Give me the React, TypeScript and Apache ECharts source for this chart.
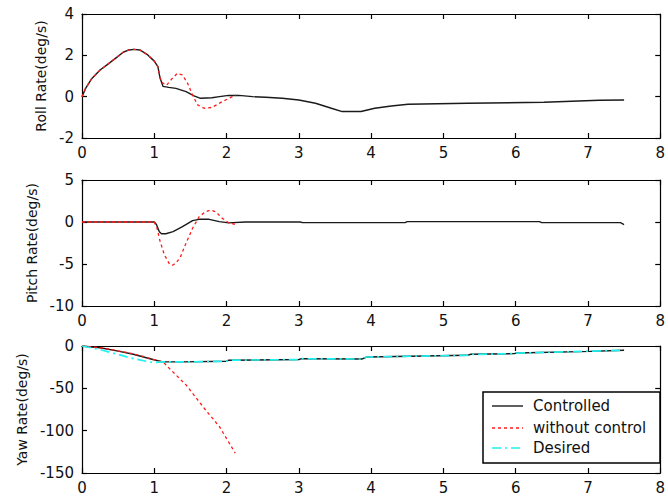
import React, { useEffect, useRef } from "react";
import * as echarts from "echarts";

// Roll rate response (deg/s)
const rollTimeCtrl = [0, 0.05, 0.13, 0.25, 0.35, 0.48, 0.57, 0.65, 0.72, 0.8, 0.91, 1.0, 1.05, 1.08, 1.12, 1.2, 1.3, 1.44, 1.55, 1.64, 1.8, 1.9, 2.03, 2.17, 2.36, 2.54, 2.77, 3.0, 3.23, 3.45, 3.6, 3.86, 4.05, 4.28, 4.51, 5.33, 6.39, 7.16, 7.5];
const rollCtrl = [0, 0.4, 0.85, 1.29, 1.55, 1.9, 2.15, 2.26, 2.29, 2.26, 2.02, 1.72, 1.45, 0.9, 0.5, 0.45, 0.4, 0.24, 0.04, -0.08, -0.05, 0.0, 0.06, 0.06, 0.0, -0.03, -0.08, -0.16, -0.32, -0.56, -0.72, -0.72, -0.56, -0.45, -0.37, -0.32, -0.27, -0.17, -0.16];
const rollTimeFree = [0, 0.05, 0.13, 0.25, 0.35, 0.48, 0.57, 0.65, 0.72, 0.8, 0.91, 1.0, 1.05, 1.08, 1.12, 1.17, 1.24, 1.32, 1.39, 1.46, 1.53, 1.6, 1.69, 1.8, 1.94, 2.08, 2.13];
const rollFree = [0, 0.4, 0.85, 1.29, 1.55, 1.9, 2.15, 2.26, 2.29, 2.26, 2.02, 1.72, 1.45, 0.9, 0.65, 0.55, 0.85, 1.13, 1.05, 0.65, 0.08, -0.4, -0.56, -0.52, -0.24, 0.0, 0.08];

// Pitch rate response (deg/s)
const pitchTimeCtrl = [0, 1.0, 1.03, 1.07, 1.1, 1.16, 1.26, 1.39, 1.53, 1.62, 1.76, 1.9, 2.03, 2.26, 3.02, 3.05, 4.47, 4.5, 6.33, 6.36, 7.45, 7.5];
const pitchCtrl = [0, 0, -0.3, -1.15, -1.4, -1.4, -1.15, -0.56, 0.16, 0.32, 0.32, 0.04, -0.1, 0, 0, -0.08, -0.08, 0.04, 0.04, -0.08, -0.08, -0.3];
const pitchTimeFree = [0, 1.0, 1.04, 1.08, 1.14, 1.21, 1.25, 1.3, 1.36, 1.44, 1.53, 1.62, 1.71, 1.78, 1.85, 1.94, 2.03, 2.13];
const pitchFree = [0, 0, -0.8, -2.3, -3.9, -5.0, -5.15, -4.9, -4.2, -2.5, -0.75, 0.63, 1.23, 1.43, 1.23, 0.44, -0.08, -0.3];

// Yaw rate response (deg/s)
const yawTimeCtrl = [0, 0.25, 0.5, 0.71, 0.98, 1.12, 1.39, 2.0, 2.03, 3.0, 3.04, 3.87, 3.94, 5.33, 5.38, 5.98, 6.02, 7.03, 7.5];
const yawCtrl = [0, -2, -6, -9.8, -16, -18.8, -18.8, -18, -16.8, -16, -15, -15.4, -13, -11, -9.8, -9, -8.2, -6.3, -5.1];
const yawTimeFree = [0, 0.3, 0.7, 1.0, 1.13, 1.21, 1.44, 1.71, 1.9, 2.12];
const yawFree = [0, -2.5, -9, -16, -19.5, -26.6, -46, -75.6, -95, -126.5];
const yawTimeDesired = [0, 0.25, 0.5, 0.71, 0.98, 1.12, 1.39, 2.0, 2.03, 3.0, 3.04, 3.87, 3.94, 5.33, 5.38, 5.98, 6.02, 7.03, 7.5];
const yawDesired = [0, -4.3, -10, -14.9, -19.6, -18.8, -18.8, -18, -16.8, -16, -15, -15.4, -13, -11, -10, -9, -8.5, -6, -5];

// Axis settings per panel
const panelNames = ["Roll Rate(deg/s)", "Pitch Rate(deg/s)", "Yaw Rate(deg/s)"];
const panelMin = [-2, -10, -150];
const panelMax = [4, 5, 0];
const panelStep = [2, 5, 50];
const timeMin = 0;
const timeMax = 8;
const timeStep = 1;

const legendNames = ["Controlled", "without control", "Desired"];

const zip = (t: number[], v: number[]) => t.map((x, i) => [x, v[i]]);

const FONT = "DejaVu Sans";
const TEXT = "#111";

const grids = [
  { left: 82, top: 14, width: 582, height: 124 },
  { left: 82, top: 180, width: 582, height: 126 },
  { left: 82, top: 346, width: 582, height: 127 },
];
const nameGaps = [33, 43, 53];

export default function App() {
  const ref = useRef<HTMLDivElement>(null);

  useEffect(() => {
    if (!ref.current) return;
    const chart = echarts.init(ref.current, null, { renderer: "svg" });

    const axisLine = { show: true, onZero: false, lineStyle: { color: "#000", width: 1.2 } };
    const tick = { show: true, inside: true, length: 5, lineStyle: { color: "#000", width: 1.2 } };
    const label = { color: TEXT, fontFamily: FONT, fontSize: 15 };

    const xAxis: any[] = [];
    const yAxis: any[] = [];
    grids.forEach((_, i) => {
      xAxis.push({
        type: "value", gridIndex: i, min: timeMin, max: timeMax, interval: timeStep,
        position: "bottom", axisLine, axisTick: tick, splitLine: { show: false },
        axisLabel: { ...label, margin: 7 },
      });
      yAxis.push({
        type: "value", gridIndex: i, min: panelMin[i], max: panelMax[i], interval: panelStep[i],
        position: "left", axisLine, axisTick: tick, splitLine: { show: false },
        axisLabel: { ...label, margin: 8 },
        name: panelNames[i], nameLocation: "middle", nameRotate: 90, nameGap: nameGaps[i],
        nameTextStyle: { color: TEXT, fontFamily: FONT, fontSize: 14 },
      });
    });
    grids.forEach((_, i) => {
      xAxis.push({
        type: "value", gridIndex: i, min: timeMin, max: timeMax, interval: timeStep,
        position: "top", axisLine, axisTick: tick, splitLine: { show: false },
        axisLabel: { show: false },
      });
      yAxis.push({
        type: "value", gridIndex: i, min: panelMin[i], max: panelMax[i], interval: panelStep[i],
        position: "right", axisLine, axisTick: tick, splitLine: { show: false },
        axisLabel: { show: false },
      });
    });

    const solid = { color: "#1a1a1a", width: 1.4, type: "solid" };
    const dashed = { color: "#ff1a1a", width: 1.3, type: [3, 3] };
    const dashDot = { color: "#1ff2f2", width: 1.7, type: [9, 4, 2, 4] };

    const line = (name: string, idx: number, data: number[][], style: any) => ({
      name, type: "line", xAxisIndex: idx, yAxisIndex: idx, data,
      showSymbol: false, symbol: "none", lineStyle: style, silent: true,
    });

    const series = [
      line(legendNames[0], 0, zip(rollTimeCtrl, rollCtrl), solid),
      line(legendNames[1], 0, zip(rollTimeFree, rollFree), dashed),
      line(legendNames[0], 1, zip(pitchTimeCtrl, pitchCtrl), solid),
      line(legendNames[1], 1, zip(pitchTimeFree, pitchFree), dashed),
      line(legendNames[0], 2, zip(yawTimeCtrl, yawCtrl), solid),
      line(legendNames[1], 2, zip(yawTimeFree, yawFree), dashed),
      line(legendNames[2], 2, zip(yawTimeDesired, yawDesired), dashDot),
    ];

    // Legend box in the lower panel
    const lx = 483, ly = 392, lw = 177, lh = 71;
    const rows = [406, 428, 448];
    const styles = [solid, dashed, dashDot];
    const legendEls: any[] = [
      { type: "rect", shape: { x: lx, y: ly, width: lw, height: lh }, style: { fill: "#fff", stroke: "#000", lineWidth: 1.5 }, z: 100 },
    ];
    rows.forEach((y, i) => {
      legendEls.push({
        type: "line", shape: { x1: 492, y1: y, x2: 523, y2: y },
        style: { stroke: styles[i].color, lineWidth: styles[i].width, lineDash: styles[i].type === "solid" ? null : styles[i].type },
        z: 101,
      });
      legendEls.push({
        type: "text", x: 533, y,
        style: { text: legendNames[i], fill: TEXT, font: `15px "${FONT}"`, verticalAlign: "middle", align: "left" },
        z: 101,
      });
    });

    chart.setOption({
      animation: false,
      backgroundColor: "#fff",
      grid: grids.map((g) => ({ ...g, containLabel: false })),
      xAxis,
      yAxis,
      series,
      graphic: legendEls,
    });

    return () => chart.dispose();
  }, []);

  return (
    <div
      ref={ref}
      style={{ position: "fixed", left: 0, top: 0, width: 668, height: 499 }}
    />
  );
}
